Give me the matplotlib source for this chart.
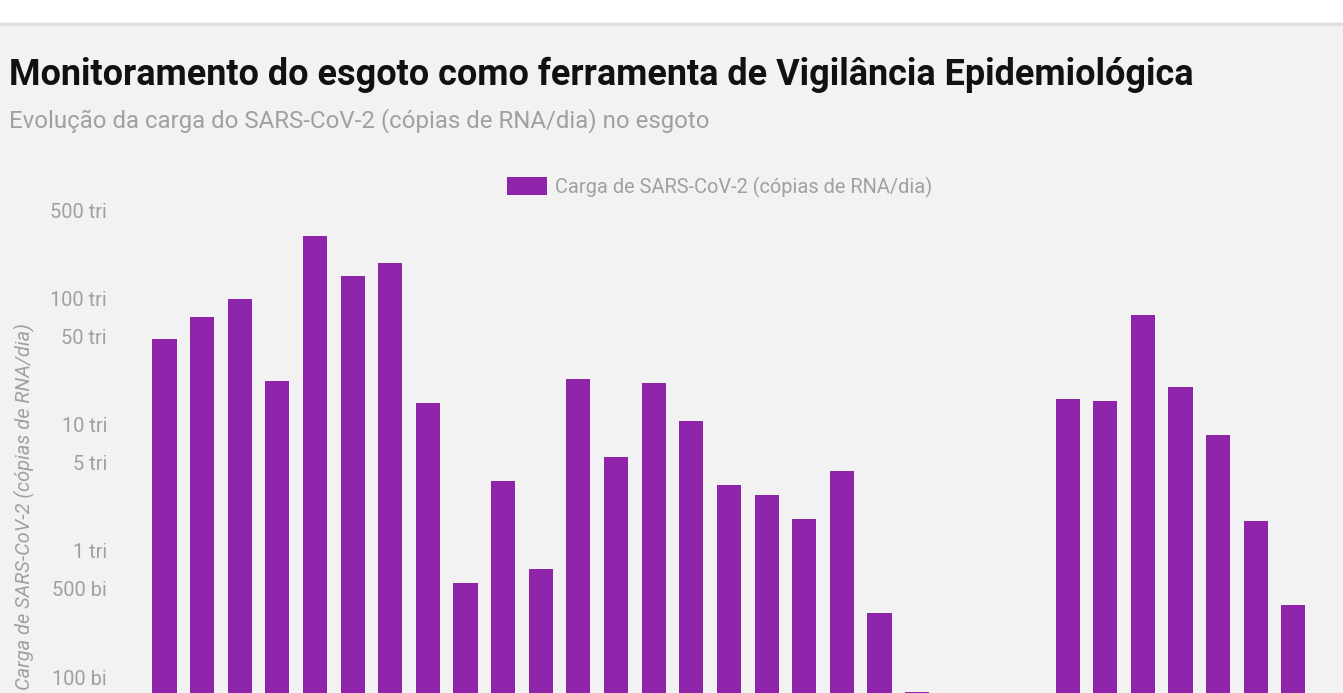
import numpy as np
import matplotlib
matplotlib.use("Agg")
import matplotlib.pyplot as plt
from matplotlib.patches import Rectangle
from matplotlib.lines import Line2D

# ---- data (copies of RNA per day) ----
slots = list(range(1, 32))
carga = [48.0e12, 71.7e12, 99.6e12, 22.3e12, 309e12, 149e12, 192e12, 14.9e12,
         555e9, 3.58e12, 717e9, 23.1e12, 5.55e12, 21.5e12, 10.7e12, 3.33e12,
         2.77e12, 1.79e12, 4.30e12, 321e9, 76.7e9, np.nan, np.nan, np.nan,
         16.0e12, 15.4e12, 74.4e12, 19.9e12, 8.3e12, 1.72e12, 371e9]
tick_vals = [1e11, 5e11, 1e12, 5e12, 1e13, 5e13, 1e14, 5e14]
tick_labels = ["100 bi", "500 bi", "1 tri", "5 tri",
               "10 tri", "50 tri", "100 tri", "500 tri"]

title = "Monitoramento do esgoto como ferramenta de Vigilância Epidemiológica"
subtitle = "Evolução da carga do SARS-CoV-2 (cópias de RNA/dia) no esgoto"
series_name = "Carga de SARS-CoV-2 (cópias de RNA/dia)"

# ---- style ----
W, H, DPI = 1343, 693, 72
BG = "#f2f2f2"
PURPLE = "#8e24aa"
GREY = "#a0a0a0"
plt.rcParams["font.family"] = ["Roboto", "DejaVu Sans"]

fig = plt.figure(figsize=(W / DPI, H / DPI), dpi=DPI, facecolor=BG)

def fx(px):
    return px / W

def fy(py):
    return 1 - py / H

# white header band and separator
fig.patches.append(Rectangle((0, fy(22)), 1, 22 / H, transform=fig.transFigure,
                             facecolor="white", edgecolor="none", zorder=0))
fig.add_artist(Line2D([0, 1], [fy(23.5), fy(23.5)], transform=fig.transFigure,
                      color="#dcdcdc", lw=2.5, zorder=1))

fig.text(fx(9), fy(75), title, fontsize=36, fontweight="bold", color="#111111",
         va="center", ha="left")
fig.text(fx(9), fy(121), subtitle, fontsize=24, color=GREY, va="center", ha="left")

# axes: top at 500 tri (y=210 px), bottom at 10 bi (y=803.5 px, below the crop)
ax_left, ax_right = 140, 1318
ax_top, ax_bot = 210, 803.5
ax = fig.add_axes([fx(ax_left), fy(ax_bot), (ax_right - ax_left) / W, (ax_bot - ax_top) / H])
ax.set_facecolor(BG)

x = np.arange(len(slots))
vals = np.array(carga, dtype=float)
ax.bar(x, vals, width=0.64, color=PURPLE, label=series_name, zorder=2)

ax.set_yscale("log")
ax.set_ylim(1e10, 5e14)
slot_px = 37.63
first_px = 164.5
ax.set_xlim((ax_left - first_px) / slot_px, (ax_right - first_px) / slot_px)
ax.set_yticks(tick_vals)
ax.set_yticklabels(tick_labels)
ax.yaxis.set_minor_locator(matplotlib.ticker.NullLocator())
ax.tick_params(axis="y", length=0, pad=33, labelsize=20, labelcolor=GREY)
ax.set_xticks([])
for s in ax.spines.values():
    s.set_visible(False)

fig.text(fx(24), fy((ax_top + ax_bot) / 2), series_name, rotation=90, fontsize=20,
         fontstyle="italic", color=GREY, va="center", ha="center")

leg = fig.legend(loc="center", bbox_to_anchor=(fx(719.5), fy(187)),
                 frameon=False, fontsize=20, handlelength=40 / 20,
                 handleheight=20 / 20, handletextpad=8 / 20, borderpad=0)
for t in leg.get_texts():
    t.set_color(GREY)

fig.savefig("out.png", dpi=DPI, facecolor=BG)
